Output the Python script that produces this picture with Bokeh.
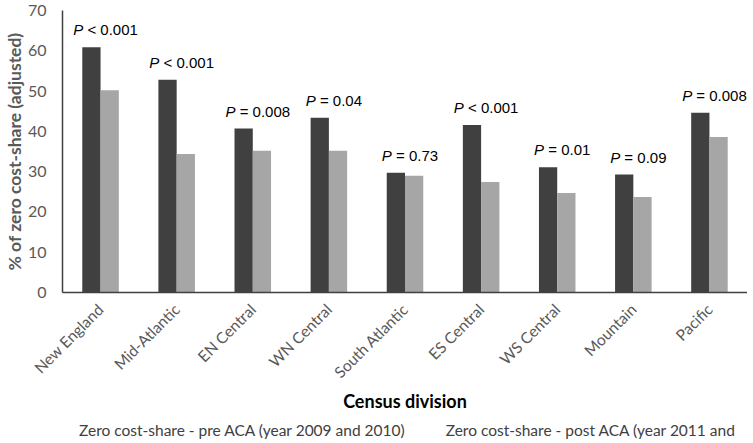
import math
from bokeh.plotting import figure
from bokeh.layouts import column
from bokeh.models import (ColumnDataSource, FactorRange, Range1d, Legend, LegendItem,
                          FixedTicker)
from bokeh.transform import dodge
from bokeh.core.properties import value
from bokeh.embed import file_html
from bokeh.resources import INLINE

divisions = ["New England", "Mid-Atlantic", "EN Central", "WN Central", "South Atlantic",
             "ES Central", "WS Central", "Mountain", "Pacific"]
pre_aca = [60.9, 52.8, 40.7, 43.4, 29.7, 41.6, 31.1, 29.3, 44.6]
post_aca = [50.2, 34.4, 35.2, 35.2, 29.0, 27.4, 24.7, 23.7, 38.6]
p_ops = ["<", "<", "=", "=", "=", "<", "=", "=", "="]
p_vals = ["0.001", "0.001", "0.008", "0.04", "0.73", "0.001", "0.01", "0.09", "0.008"]
y_ticks = [0, 10, 20, 30, 40, 50, 60, 70]
series_names = ["Zero cost-share - pre ACA (year 2009 and 2010)",
                "Zero cost-share - post ACA (year 2011 and after)"]

DARK = "#404040"
LIGHT = "#a6a6a6"
FS = 15.0  # px, P-value labels
W = {"0": .556, "1": .556, "2": .556, "3": .556, "4": .556, "5": .556, "6": .556,
     "7": .556, "8": .556, "9": .556, ".": .278, " ": .278, "<": .584, "=": .584, "P": .667}


def tw(s):
    return sum(W.get(c, .556) for c in s) * FS


rest = [f"{o} {v}" for o, v in zip(p_ops, p_vals)]
total_w = [tw("P ") + tw(r) for r in rest]
shift = 5.0
p_off = [shift - t / 2 for t in total_w]
r_off = [po + tw("P ") for po in p_off]
lab_y = [v + 4.3 for v in pre_aca]

src = ColumnDataSource(dict(div=divisions, pre=pre_aca, post=post_aca, rest=rest,
                            p=["P"] * len(divisions), ly=lab_y, poff=p_off, roff=r_off))

p = figure(x_range=FactorRange(*divisions, range_padding=0), y_range=Range1d(0, 70),
           frame_width=685, frame_height=282, output_backend="svg", toolbar_location=None,
           min_border_left=52, min_border_right=0, min_border_top=10, min_border_bottom=0)
p.outline_line_color = None
p.background_fill_color = "white"
p.border_fill_color = "white"
p.xgrid.grid_line_color = None
p.ygrid.grid_line_color = None

p.vbar(x=dodge("div", -0.12, range=p.x_range), top="pre", width=0.24, source=src,
       fill_color=DARK, line_color=None)
p.vbar(x=dodge("div", 0.12, range=p.x_range), top="post", width=0.24, source=src,
       fill_color=LIGHT, line_color=None)

p.text(x="div", y="ly", text="p", x_offset="poff", source=src, text_align="left",
       text_baseline="alphabetic", text_font=value("Liberation Sans"),
       text_font_style="italic", text_font_size="15px", text_color="black")
p.text(x="div", y="ly", text="rest", x_offset="roff", source=src, text_align="left",
       text_baseline="alphabetic", text_font=value("Liberation Sans"),
       text_font_size="15px", text_color="black")

# y axis
ya = p.yaxis[0]
ya.ticker = FixedTicker(ticks=y_ticks)
ya.axis_label = "% of zero cost-share (adjusted)"
ya.axis_label_text_font = "Lato"
ya.axis_label_text_font_style = "bold"
ya.axis_label_text_font_size = "17.5px"
ya.axis_label_text_color = "#595959"
ya.axis_label_standoff = 0
ya.major_label_text_font = "Lato"
ya.major_label_text_font_size = "16px"
ya.major_label_text_color = "#595959"
ya.major_label_standoff = 10
ya.major_tick_line_color = None
ya.minor_tick_line_color = None
ya.axis_line_color = "#404040"
ya.axis_line_width = 1.5

# x axis
xa = p.xaxis[0]
xa.axis_label = "Census division"
xa.axis_label_text_font = "Lato"
xa.axis_label_text_font_style = "bold"
xa.axis_label_text_font_size = "18px"
xa.axis_label_text_color = "black"
xa.axis_label_standoff = 0
xa.major_label_orientation = math.pi / 4
xa.major_label_text_font = "Lato"
xa.major_label_text_font_size = "15.5px"
xa.major_label_text_color = "#595959"
xa.major_label_standoff = 8
xa.major_tick_line_color = None
xa.minor_tick_line_color = None
xa.axis_line_color = "#404040"
xa.axis_line_width = 1.5

# legend strip below the chart
lg = figure(width=737, height=28, x_range=Range1d(0, 1), y_range=Range1d(0, 1),
            x_axis_type=None, y_axis_type=None, output_backend="svg",
            toolbar_location=None, min_border=0)
lg.outline_line_color = None
lg.xgrid.grid_line_color = None
lg.ygrid.grid_line_color = None
k1 = lg.vbar(x=[], top=[], width=0.1, fill_color=DARK, line_color=None)
k2 = lg.vbar(x=[], top=[], width=0.1, fill_color=LIGHT, line_color=None)

legend = Legend(items=[
    LegendItem(label=series_names[0], renderers=[k1]),
    LegendItem(label=series_names[1], renderers=[k2]),
], orientation="horizontal", location=(3, 4))
legend.border_line_color = None
legend.background_fill_alpha = 0
legend.padding = 0
legend.margin = 0
legend.spacing = 27
legend.glyph_width = 10
legend.glyph_height = 10
legend.label_standoff = 4
legend.label_height = 10
legend.label_text_font = "Lato"
legend.label_text_font_size = "15.5px"
legend.label_text_color = "#404040"
lg.add_layout(legend)

open("out.html", "w").write(file_html(column(p, lg, spacing=0), INLINE))
